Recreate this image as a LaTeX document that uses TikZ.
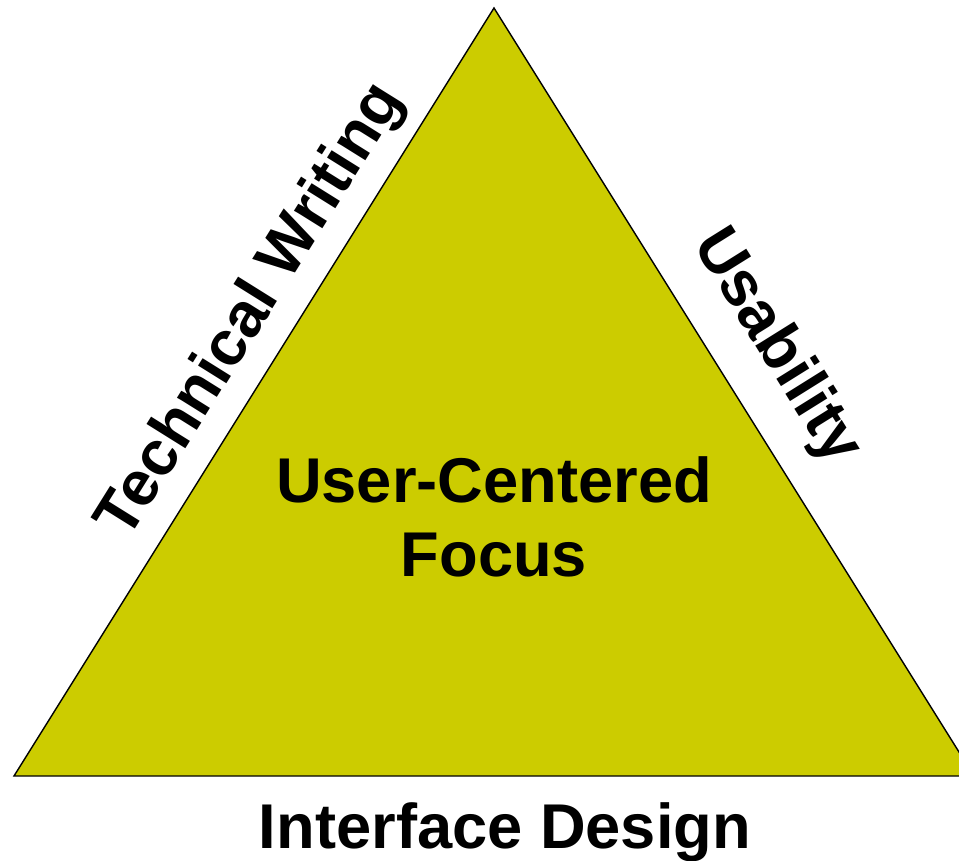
\documentclass[tikz,border=0pt]{standalone}
\usepackage{fontspec}
\setmainfont{Liberation Sans}
\usepackage{tikz}
\definecolor{olivefill}{HTML}{CCCC00}
\tikzset{bigtext/.style={font=\fontsize{36}{42.5}\selectfont\bfseries, inner sep=0pt}}

\begin{document}
\begin{tikzpicture}[x=0.02cm, y=-0.02cm]
		%%%%% START %%%%%
		
		\useasboundingbox (0, 0) rectangle (959, 861);
		\clip (0, 0) rectangle (959, 861);
		
		\coordinate (apex) at (494, 8);
		\coordinate (cornerL) at (14, 776);
		\coordinate (cornerR) at (974, 776);
		\draw[line width=0.8pt, fill=olivefill] (apex) -- (cornerR) -- (cornerL) -- cycle;
		
		\node[bigtext, anchor=base, rotate=58] (tw) at (266, 320) {Technical Writing};
		\node[bigtext, anchor=base, rotate=-58] (us) at (762, 356) {Usability};
		
		\node[bigtext, align=center] (ucf) at (494, 517) {User-Centered\\Focus};
		
		\node[bigtext, anchor=base] (id) at (505, 848) {Interface Design};
		
		%%%%% END %%%%%
	\end{tikzpicture}
\end{document}
